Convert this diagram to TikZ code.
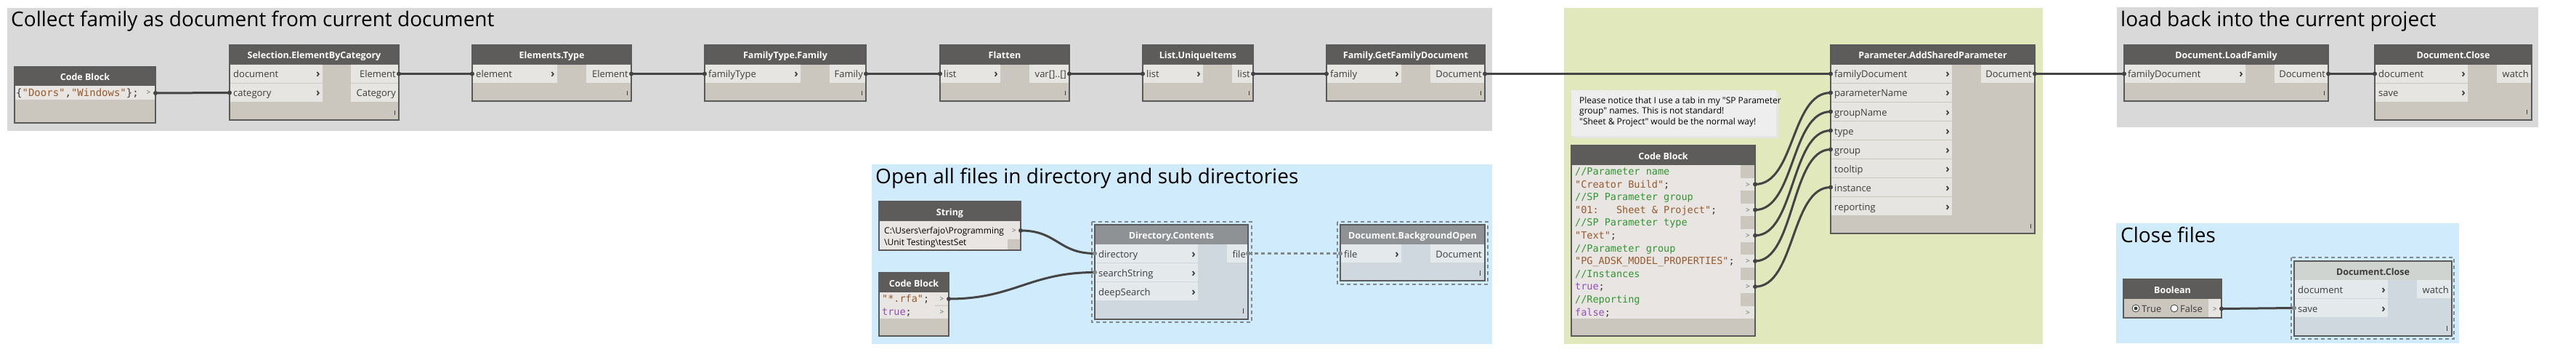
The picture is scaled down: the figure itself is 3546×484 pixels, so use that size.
\documentclass[tikz,border=0pt]{standalone}
\usepackage{fontspec}
\setmainfont{Open Sans}
\newfontfamily\codefont{DejaVu Sans Mono}
\newcommand{\strq}{\textquotedbl}

\definecolor{grpgray}{RGB}{217,217,217}
\definecolor{grpgreen}{RGB}{225,232,188}
\definecolor{grpblue}{RGB}{208,236,252}
\definecolor{hdrc}{RGB}{94,92,90}
\definecolor{bodyc}{RGB}{203,198,190}
\definecolor{portc}{RGB}{230,229,225}
\definecolor{codebgc}{RGB}{232,229,226}
\definecolor{edgec}{RGB}{90,90,90}
\definecolor{wirec}{RGB}{68,68,68}
\definecolor{txtc}{RGB}{60,60,60}
\definecolor{frzhdrc}{RGB}{142,146,149}
\definecolor{frzbodyc}{RGB}{206,216,222}
\definecolor{frzportc}{RGB}{228,233,236}
\definecolor{frzlightc}{RGB}{208,212,208}
\definecolor{frzdashc}{RGB}{128,136,140}
\definecolor{notec}{RGB}{238,238,238}
\definecolor{cgreen}{RGB}{50,150,50}
\definecolor{cbrown}{RGB}{150,90,45}
\definecolor{cpurple}{RGB}{145,80,185}

\tikzset{
  grptitle/.style={anchor=base west,inner sep=0pt,text=black,font=\fontsize{28}{30}\selectfont},
  edgebox/.style={draw=edgec,line width=1.2pt},
  hdrtext/.style={anchor=base,inner sep=0pt,text=white,font=\fontsize{12.5}{14}\selectfont\bfseries},
  inlbl/.style={anchor=base west,inner sep=0pt,text=txtc,font=\fontsize{13}{15}\selectfont},
  outlbl/.style={anchor=base east,inner sep=0pt,text=txtc,font=\fontsize{13}{15}\selectfont},
  chev/.style={anchor=base,inner sep=0pt,text=txtc,font=\fontsize{15}{15}\selectfont\bfseries},
  portmark/.style={anchor=base,inner sep=0pt,text=txtc!80,font=\fontsize{10}{12}\selectfont},
  code/.style={anchor=base west,inner sep=0pt,text=txtc,font=\fontsize{13.5}{15}\codefont},
  grip/.style={draw=txtc,line width=1pt},
  wire/.style={draw=wirec,line width=3pt},
  nub/.style={fill=wirec},
  frzline/.style={draw=frzdashc,line width=2.5pt,dash pattern=on 5pt off 4pt}
}

\begin{document}
\begin{tikzpicture}[x=1pt,y=-1pt]
\useasboundingbox (0,0) rectangle (3546,484);

\fill[grpgray] (10,11) rectangle (2054,180);
\fill[grpgreen] (2153,11) rectangle (2812,473);
\fill[grpgray] (2914,10) rectangle (3494,175);
\fill[grpblue] (1200,226) rectangle (2054,473);
\fill[grpblue] (2913,307) rectangle (3385,472);
\node[grptitle] (t-collect) at (15,37) {Collect family as document from current document};
\node[grptitle] (t-load) at (2919,37) {load back into the current project};
\node[grptitle] (t-open) at (1205,252) {Open all files in directory and sub directories};
\node[grptitle] (t-close) at (2919,333) {Close files};

\fill[bodyc] (20,92) rectangle (214,169);
\fill[hdrc] (20,92) rectangle (214,118);
\node[hdrtext] (cb1) at (117,111) {Code Block};
\fill[codebgc] (20,118) rectangle (195,137);
\fill[portc] (195,118) rectangle (214,137);
\node[code,font=\fontsize{14}{15}\codefont] (cb1-l0) at (22,132) {\{\textcolor{cbrown}{\strq Doors\strq},\textcolor{cbrown}{\strq Windows\strq}\};};
\node[portmark] at (204.5,131) {>};
\coordinate (cb1-o0) at (214,128);
\draw[edgebox] (20,92) rectangle (214,169);

\fill[bodyc] (316,62) rectangle (549,165);
\fill[hdrc] (316,62) rectangle (549,89);
\node[hdrtext] (sel) at (432.5,81) {Selection.ElementByCategory};
\foreach \lbl/\olbl [count=\i from 0] in {document/Element,category/Category} {
  \fill[portc] (316,89+26*\i) rectangle (444,114+26*\i) (483,89+26*\i) rectangle (549,114+26*\i);
  \node[inlbl] (sel-il\i) at (321,107+26*\i) {\lbl};
  \node[chev] at (438,107+26*\i) {›};
  \node[outlbl] (sel-ol\i) at (545,107+26*\i) {\olbl};
  \coordinate (sel-i\i) at (316,101.5+26*\i);
  \coordinate (sel-o\i) at (549,101.5+26*\i);
}
\draw[grip] (543,152) -- (543,158);
\draw[edgebox] (316,62) rectangle (549,165);

\foreach \nm/\xa/\xb/\xi/\xo/\ttl/\il/\ol in {
  et/650/869/767/807/Elements.Type/element/Element,
  ftf/970/1192/1102/1142/FamilyType.Family/familyType/Family,
  fl/1294/1472/1377/1417/Flatten/list/{var[]..[]},
  lu/1573/1725/1656/1696/List.UniqueItems/list/list,
  gfd/1826/2044/1929/1969/Family.GetFamilyDocument/family/Document,
  lf/2924/3205/3091/3131/Document.LoadFamily/familyDocument/Document} {
  \fill[bodyc] (\xa,62) rectangle (\xb,139);
  \fill[hdrc] (\xa,62) rectangle (\xb,89);
  \node[hdrtext] (\nm) at ({(\xa+\xb)/2},81) {\ttl};
  \fill[portc] (\xa,89) rectangle (\xi,114) (\xo,89) rectangle (\xb,114);
  \node[inlbl] (\nm-il) at (\xa+5,107) {\il};
  \node[chev] at (\xi-6,107) {›};
  \node[outlbl] (\nm-ol) at (\xb-4,107) {\ol};
  \draw[grip] (\xb-6,125) -- (\xb-6,131);
  \draw[edgebox] (\xa,62) rectangle (\xb,139);
  \coordinate (\nm-i0) at (\xa,101.5);
  \coordinate (\nm-o0) at (\xb,101.5);
}

\fill[bodyc] (3269,62) rectangle (3485,165);
\fill[hdrc] (3269,62) rectangle (3485,89);
\node[hdrtext] (dc1) at (3377,81) {Document.Close};
\foreach \lbl [count=\i from 0] in {document,save} {
  \fill[portc] (3269,89+26*\i) rectangle (3397,114+26*\i);
  \node[inlbl] (dc1-il\i) at (3274,107+26*\i) {\lbl};
  \node[chev] at (3391,107+26*\i) {›};
  \coordinate (dc1-i\i) at (3269,101.5+26*\i);
}
\fill[portc] (3437,89) rectangle (3485,114);
\node[outlbl] (dc1-ol0) at (3481,107) {watch};
\draw[grip] (3478,151) -- (3478,157);
\draw[edgebox] (3269,62) rectangle (3485,165);

\fill[bodyc] (2520,62) rectangle (2801,321);
\fill[hdrc] (2520,62) rectangle (2801,89);
\node[hdrtext] (asp) at (2660.5,81) {Parameter.AddSharedParameter};
\foreach \lbl [count=\i from 0] in {familyDocument,parameterName,groupName,type,group,tooltip,instance,reporting} {
  \fill[portc] (2520,89+26*\i) rectangle (2687,114+26*\i);
  \node[inlbl] (asp-il\i) at (2525,107+26*\i) {\lbl};
  \node[chev] at (2681,107+26*\i) {›};
  \coordinate (asp-i\i) at (2520,101.5+26*\i);
}
\fill[portc] (2727,89) rectangle (2801,114);
\node[outlbl] (asp-ol0) at (2797,107) {Document};
\coordinate (asp-o0) at (2801,101.5);
\draw[grip] (2795,308) -- (2795,314);
\draw[edgebox] (2520,62) rectangle (2801,321);

\fill[black!10] (2166,127) rectangle (2448,190);
\fill[notec] (2163,124) rectangle (2445,187);
\node[anchor=north west,inner sep=0pt,align=left,text=black,
  font=\fontsize{12}{14.5}\selectfont] (note) at (2174,133)
  {Please notice that I use a tab in my \strq SP Parameter\\
   group\strq{} names. This is not standard!\\
   \strq Sheet \& Project\strq{} would be the normal way!};

\fill[bodyc] (2163,200) rectangle (2416,462);
\fill[hdrc] (2163,200) rectangle (2416,227);
\node[hdrtext] (cb2) at (2289.5,219) {Code Block};
\fill[codebgc] (2163,227) rectangle (2396,438);
\foreach \codeln [count=\i from 0] in {
  {\textcolor{cgreen}{//Parameter name}},
  {\textcolor{cbrown}{\strq Creator Build\strq};},
  {\textcolor{cgreen}{//SP Parameter group}},
  {\textcolor{cbrown}{\strq 01:\ \ \ Sheet \& Project\strq};},
  {\textcolor{cgreen}{//SP Parameter type}},
  {\textcolor{cbrown}{\strq Text\strq};},
  {\textcolor{cgreen}{//Parameter group}},
  {\textcolor{cbrown}{\strq PG\_ADSK\_MODEL\_PROPERTIES\strq};},
  {\textcolor{cgreen}{//Instances}},
  {\textcolor{cpurple}{true};},
  {\textcolor{cgreen}{//Reporting}},
  {\textcolor{cpurple}{false};}} {
  \node[code] (cb2-l\i) at (2168,240.5+17.6*\i) {\codeln};
}
\foreach \i in {1,3,5,7,9,11} {
  \fill[portc] (2396,227+17.6*\i) rectangle (2416,244.6+17.6*\i);
  \node[portmark] at (2406,239.5+17.6*\i) {>};
  \coordinate (cb2-o\i) at (2416,235.8+17.6*\i);
}
\draw[edgebox] (2163,200) rectangle (2416,462);

\fill[hdrc] (1210,277) rectangle (1405,304);
\node[hdrtext] (str) at (1307.5,296) {String};
\fill[codebgc] (1210,304) rectangle (1387,344);
\fill[bodyc] (1387,304) rectangle (1405,344);
\fill[portc] (1387,304) rectangle (1405,329);
\node[anchor=base west,inner sep=0pt,text=black,font=\fontsize{12}{15}\selectfont] (str-l0) at (1217,321)
  {C:\textbackslash Users\textbackslash erfajo\textbackslash Programming};
\node[anchor=base west,inner sep=0pt,text=black,font=\fontsize{12}{15}\selectfont] (str-l1) at (1217,337)
  {\textbackslash Unit Testing\textbackslash testSet};
\node[portmark] at (1396,320) {>};
\coordinate (str-o0) at (1405,317);
\draw[edgebox] (1210,277) rectangle (1405,344);

\fill[bodyc] (1210,375) rectangle (1306,462);
\fill[hdrc] (1210,375) rectangle (1306,402);
\node[hdrtext] (cb3) at (1258,394) {Code Block};
\fill[codebgc] (1210,402) rectangle (1287,438);
\fill[portc] (1287,402) rectangle (1306,419.5) (1287,420.5) rectangle (1306,438);
\node[code] (cb3-l0) at (1214,415) {\textcolor{cbrown}{\strq*.rfa\strq};};
\node[code] (cb3-l1) at (1214,433) {\textcolor{cpurple}{true};};
\node[portmark] at (1296.5,414) {>};
\node[portmark] at (1296.5,432) {>};
\coordinate (cb3-o0) at (1306,411);
\draw[edgebox] (1210,375) rectangle (1306,462);

\draw[frzline] (1503,305) rectangle (1723,443);
\fill[frzbodyc] (1507,309) rectangle (1718,439);
\fill[frzhdrc] (1507,309) rectangle (1718,336);
\node[hdrtext] (dir) at (1612.5,328) {Directory.Contents};
\foreach \lbl [count=\i from 0] in {directory,searchString,deepSearch} {
  \fill[frzportc] (1507,336+26*\i) rectangle (1649,361+26*\i);
  \node[inlbl] (dir-il\i) at (1512,354+26*\i) {\lbl};
  \node[chev] at (1643,354+26*\i) {›};
  \coordinate (dir-i\i) at (1507,348.5+26*\i);
}
\fill[frzportc] (1689,336) rectangle (1718,361);
\node[outlbl] (dir-ol0) at (1715,354) {file};
\coordinate (dir-o0) at (1718,348.5);
\draw[grip] (1711,424) -- (1711,431);
\draw[edgebox] (1507,309) rectangle (1718,439);

\draw[frzline] (1841,305) rectangle (2048,391);
\fill[frzbodyc] (1845,309) rectangle (2044,386);
\fill[frzhdrc] (1845,309) rectangle (2044,336);
\node[hdrtext] (bgo) at (1944.5,328) {Document.BackgroundOpen};
\fill[frzportc] (1845,336) rectangle (1929,361) (1969,336) rectangle (2044,361);
\node[inlbl] (bgo-il0) at (1850,354) {file};
\node[chev] at (1923,354) {›};
\node[outlbl] (bgo-ol0) at (2040,354) {Document};
\coordinate (bgo-i0) at (1845,348.5);
\draw[grip] (2037,372) -- (2037,379);
\draw[edgebox] (1845,309) rectangle (2044,386);

\fill[bodyc] (2923,384) rectangle (3058,437);
\fill[hdrc] (2923,384) rectangle (3058,411);
\node[hdrtext] (bool) at (2990.5,403) {Boolean};
\fill[portc] (3040,411) rectangle (3058,437);
\draw[fill=white,draw=txtc,line width=0.8pt] (2940,424) circle (5pt);
\fill[txtc] (2940,424) circle (2.5pt);
\node[inlbl] (bool-t) at (2948,429) {True};
\draw[fill=white,draw=txtc,line width=0.8pt] (2993,424) circle (5pt);
\node[inlbl] (bool-f) at (3001,429) {False};
\node[portmark] at (3049,428) {>};
\coordinate (bool-o0) at (3058,424.5);
\draw[edgebox] (2923,384) rectangle (3058,437);

\draw[frzline] (3154,354) rectangle (3378,466);
\fill[frzbodyc] (3158,359) rectangle (3375,462);
\fill[frzlightc] (3158,359) rectangle (3375,385);
\node[hdrtext,text=txtc] (dc2) at (3266.5,378) {Document.Close};
\foreach \lbl [count=\i from 0] in {document,save} {
  \fill[frzportc] (3158,385+26*\i) rectangle (3287,410+26*\i);
  \node[inlbl] (dc2-il\i) at (3163,403+26*\i) {\lbl};
  \node[chev] at (3281,403+26*\i) {›};
  \coordinate (dc2-i\i) at (3158,397.5+26*\i);
}
\fill[frzportc] (3327,385) rectangle (3375,410);
\node[outlbl] (dc2-ol0) at (3371,403) {watch};
\draw[grip] (3368,448) -- (3368,455);
\draw[edgebox] (3158,359) rectangle (3375,462);

\draw[wire] (cb1-o0) -- (sel-i1);
\draw[wire] (sel-o0) -- (et-i0);
\draw[wire] (et-o0) -- (ftf-i0);
\draw[wire] (ftf-o0) -- (fl-i0);
\draw[wire] (fl-o0) -- (lu-i0);
\draw[wire] (lu-o0) -- (gfd-i0);
\draw[wire] (gfd-o0) -- (asp-i0);
\draw[wire] (asp-o0) -- (lf-i0);
\draw[wire] (lf-o0) -- (dc1-i0);
\foreach \a/\b in {1/1,3/2,5/3,7/4,9/6}
  \draw[wire] (cb2-o\a) .. controls +(55,0) and +(-55,0) .. (asp-i\b);
\draw[wire] (str-o0) .. controls +(50,0) and +(-50,0) .. (dir-i0);
\draw[wire] (cb3-o0) .. controls +(90,0) and +(-90,0) .. (dir-i1);
\draw[frzline] (dir-o0) -- (bgo-i0);
\draw[wire] (bool-o0) -- (dc2-i1);

\foreach \p in {cb1-o0,sel-i1,sel-o0,et-i0,et-o0,ftf-i0,ftf-o0,fl-i0,fl-o0,lu-i0,lu-o0,gfd-i0,gfd-o0,
  asp-i0,asp-i1,asp-i2,asp-i3,asp-i4,asp-i6,asp-o0,lf-i0,lf-o0,dc1-i0,
  cb2-o1,cb2-o3,cb2-o5,cb2-o7,cb2-o9,str-o0,cb3-o0,bool-o0}
  \fill[nub] (\p) circle (3pt);
\foreach \p in {dir-i0,dir-i1,dir-o0,bgo-i0,dc2-i1}
  \fill[frzdashc] (\p) circle (3pt);
\end{tikzpicture}
\end{document}
